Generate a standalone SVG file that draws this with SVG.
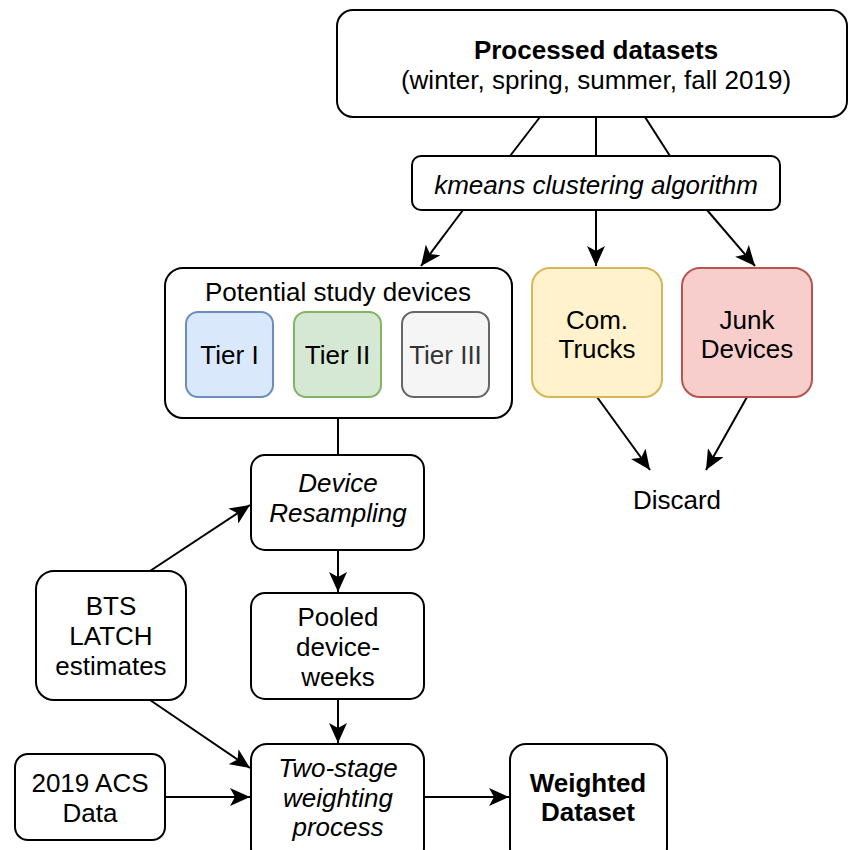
<svg xmlns="http://www.w3.org/2000/svg" width="848" height="850" viewBox="0 0 848 850">
<defs>
<marker id="arr" markerWidth="22" markerHeight="18" refX="20" refY="9" orient="auto" markerUnits="userSpaceOnUse">
<path d="M0,0 L20,9 L0,18 L5,9 Z" fill="#000"/>
</marker>
</defs>
<style>
.box{fill:#fff;stroke:#000;stroke-width:2}
.t{font-family:"Liberation Sans",Arial,sans-serif;font-size:26px;fill:#000;text-anchor:middle}
.i{font-style:italic}
.b{font-weight:bold}
.ln{fill:none;stroke:#000;stroke-width:2}
</style>
<rect width="848" height="850" fill="#fff"/>
<g id="connectors">
<line class="ln" x1="540" y1="117" x2="510" y2="156"/>
<line class="ln" x1="596" y1="117" x2="596" y2="156"/>
<line class="ln" x1="645" y1="117" x2="670" y2="156"/>
<line class="ln" x1="463" y1="210" x2="421" y2="266" marker-end="url(#arr)"/>
<line class="ln" x1="596" y1="210" x2="596" y2="266" marker-end="url(#arr)"/>
<line class="ln" x1="707" y1="210" x2="755" y2="266" marker-end="url(#arr)"/>
<line class="ln" x1="597" y1="397" x2="650" y2="470" marker-end="url(#arr)"/>
<line class="ln" x1="747" y1="397" x2="706" y2="470" marker-end="url(#arr)"/>
<line class="ln" x1="338" y1="418" x2="338" y2="455"/>
<line class="ln" x1="338" y1="550" x2="338" y2="592" marker-end="url(#arr)"/>
<line class="ln" x1="338" y1="699" x2="338" y2="743" marker-end="url(#arr)"/>
<line class="ln" x1="150" y1="571" x2="250" y2="505" marker-end="url(#arr)"/>
<line class="ln" x1="150" y1="700" x2="250" y2="768" marker-end="url(#arr)"/>
<line class="ln" x1="165" y1="797" x2="250" y2="797" marker-end="url(#arr)"/>
<line class="ln" x1="424" y1="797" x2="509" y2="797" marker-end="url(#arr)"/>
</g>
<g id="processed">
<rect class="box" x="337" y="10" width="510" height="107" rx="16"/>
<text class="t b" x="596" y="59">Processed datasets</text>
<text class="t" x="596" y="89">(winter, spring, summer, fall 2019)</text>
</g>
<g id="kmeans">
<rect class="box" x="412" y="156" width="368" height="54" rx="9"/>
<text class="t i" x="596" y="194">kmeans clustering algorithm</text>
</g>
<g id="potential">
<rect class="box" x="165" y="268" width="347" height="150" rx="18"/>
<text class="t" x="338" y="301">Potential study devices</text>
</g>
<g id="tier1">
<rect x="186" y="312" width="87" height="85" rx="12" fill="#dae8fc" stroke="#6c8ebf" stroke-width="2"/>
<text class="t" x="229.5" y="364">Tier I</text>
</g>
<g id="tier2">
<rect x="294" y="312" width="87" height="85" rx="12" fill="#d5e8d4" stroke="#82b366" stroke-width="2"/>
<text class="t" x="337.5" y="364">Tier II</text>
</g>
<g id="tier3">
<rect x="402" y="312" width="87" height="85" rx="12" fill="#f5f5f5" stroke="#666666" stroke-width="2"/>
<text class="t" x="445.5" y="364" style="fill:#333333">Tier III</text>
</g>
<g id="trucks">
<rect x="532" y="268" width="130" height="129" rx="18" fill="#fff2cc" stroke="#d6b656" stroke-width="2"/>
<text class="t" x="597" y="329">Com.</text>
<text class="t" x="597" y="358">Trucks</text>
</g>
<g id="junk">
<rect x="682" y="268" width="130" height="129" rx="18" fill="#f8cecc" stroke="#b85450" stroke-width="2"/>
<text class="t" x="747" y="329">Junk</text>
<text class="t" x="747" y="358">Devices</text>
</g>
<g id="discard">
<text class="t" x="677" y="509">Discard</text>
</g>
<g id="resampling">
<rect class="box" x="251" y="455" width="173" height="95" rx="14"/>
<text class="t i" x="338" y="492">Device</text>
<text class="t i" x="338" y="522">Resampling</text>
</g>
<g id="pooled">
<rect class="box" x="251" y="593" width="173" height="106" rx="14"/>
<text class="t" x="338" y="626">Pooled</text>
<text class="t" x="338" y="656">device-</text>
<text class="t" x="338" y="686">weeks</text>
</g>
<g id="bts">
<rect class="box" x="36" y="571" width="150" height="129" rx="18"/>
<text class="t" x="111" y="615">BTS</text>
<text class="t" x="111" y="645">LATCH</text>
<text class="t" x="111" y="675">estimates</text>
</g>
<g id="acs">
<rect class="box" x="15" y="754" width="150" height="86" rx="13"/>
<text class="t" x="90" y="792">2019 ACS</text>
<text class="t" x="90" y="822">Data</text>
</g>
<g id="twostage">
<rect class="box" x="251" y="744" width="173" height="120" rx="16"/>
<text class="t i" x="338" y="777">Two-stage</text>
<text class="t i" x="338" y="807">weighting</text>
<text class="t i" x="338" y="836">process</text>
</g>
<g id="weighted">
<rect class="box" x="510" y="744" width="157" height="120" rx="16"/>
<text class="t b" x="588" y="792">Weighted</text>
<text class="t b" x="588" y="821">Dataset</text>
</g>
</svg>
